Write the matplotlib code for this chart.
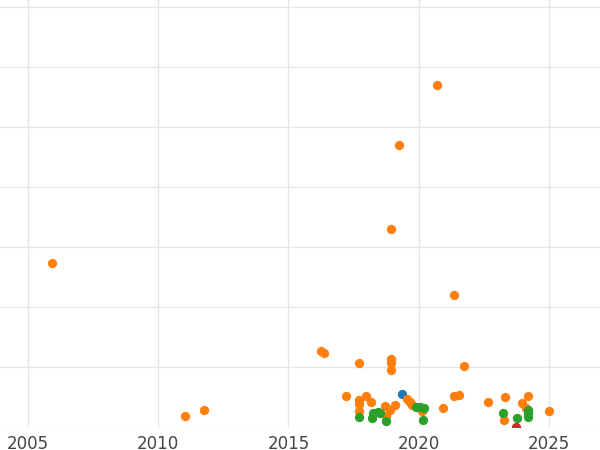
import matplotlib
matplotlib.use("Agg")
import matplotlib.pyplot as plt

orange_x = [2005.93, 2020.7, 2019.25, 2018.94, 2021.36, 2016.25, 2016.37, 2017.71, 2018.94, 2018.94, 2018.94,
            2021.74, 2011.03, 2011.76, 2017.21, 2017.71, 2017.71, 2017.71, 2017.98, 2018.17, 2018.71, 2018.75,
            2018.9, 2019.09, 2019.55, 2019.67, 2019.75, 2020.13, 2020.94, 2021.36, 2021.55, 2022.66, 2023.32,
            2023.28, 2023.97, 2024.2, 2024.12, 2025.0]
orange_y = [2.73, 5.70, 4.70, 3.30, 2.20, 1.27, 1.23, 1.07, 1.13, 1.07, 0.95,
            1.02, 0.18, 0.28, 0.52, 0.45, 0.38, 0.27, 0.52, 0.42, 0.35, 0.18,
            0.28, 0.37, 0.47, 0.42, 0.37, 0.27, 0.32, 0.52, 0.53, 0.42, 0.50,
            0.12, 0.40, 0.52, 0.32, 0.27]
blue_x = [2019.36]
blue_y = [0.55]
green_x = [2017.71, 2018.21, 2018.25, 2018.44, 2018.52, 2018.75, 2019.9, 2020.05, 2020.21, 2020.17,
           2023.24, 2023.78, 2024.2, 2024.2, 2024.2]
green_y = [0.17, 0.15, 0.23, 0.25, 0.23, 0.10, 0.33, 0.33, 0.32, 0.12,
           0.23, 0.15, 0.28, 0.23, 0.17]
red_x = [2023.74]
red_y = [0.0]
xticks = [2005, 2010, 2015, 2020, 2025]

fig = plt.figure(figsize=(6, 4.5), dpi=100)
ax = fig.add_axes([0, 23/450, 1, 427/450])
for xs, ys, c in [(blue_x, blue_y, "#1f77b4"), (orange_x, orange_y, "#ff7f0e"),
                  (green_x, green_y, "#2ca02c"), (red_x, red_y, "#d62728")]:
    ax.scatter(xs, ys, s=45, color=c, zorder=3, linewidths=0)
ax.set_xlim(2003.93, 2026.96)
ax.set_ylim(0, 7.12)
ax.set_xticks(xticks)
ax.set_yticks([0, 1, 2, 3, 4, 5, 6, 7])
ax.set_yticklabels([])
ax.grid(True, color="#e6e6e6", linewidth=1)
ax.set_axisbelow(True)
for s in ax.spines.values():
    s.set_visible(False)
ax.tick_params(length=0, labelsize=12, labelcolor="#444444", pad=6)
fig.savefig("out.png", dpi=100)
